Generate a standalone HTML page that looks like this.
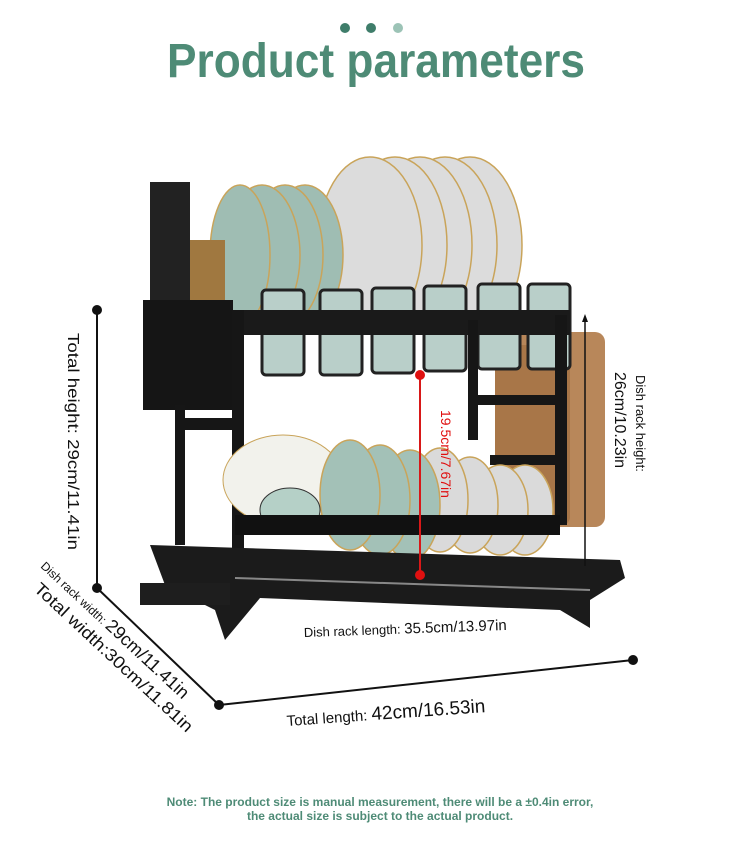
<!DOCTYPE html>
<html><head><meta charset="utf-8"><style>
html,body{margin:0;padding:0;background:#fff;}
svg{display:block}
text{font-family:"Liberation Sans",sans-serif;}
</style></head><body>
<svg width="750" height="850" viewBox="0 0 750 850" xmlns="http://www.w3.org/2000/svg">
<rect width="750" height="850" fill="#fff"/>
<circle cx="345" cy="28" r="5" fill="#3f7d6a"/>
<circle cx="371" cy="28" r="5" fill="#3f7d6a"/>
<circle cx="398" cy="28" r="5" fill="#9cc3b6"/>
<text x="376" y="77" text-anchor="middle" font-size="48" font-weight="bold" fill="#4e8b76" textLength="418" lengthAdjust="spacingAndGlyphs">Product parameters</text>

<rect x="500" y="332" width="105" height="195" rx="10" fill="#b8875a"/>
<rect x="495" y="345" width="75" height="180" rx="8" fill="#a87648"/>
<g fill="#dcdcdc" stroke="#c9a45a" stroke-width="1.5">
<ellipse cx="470" cy="245" rx="52" ry="88"/>
<ellipse cx="445" cy="245" rx="52" ry="88"/>
<ellipse cx="420" cy="245" rx="52" ry="88"/>
<ellipse cx="395" cy="245" rx="52" ry="88"/>
<ellipse cx="370" cy="245" rx="52" ry="88"/>
</g>
<g fill="#9fbdb3" stroke="#c9a45a" stroke-width="1.5">
<ellipse cx="305" cy="255" rx="38" ry="70"/>
<ellipse cx="285" cy="255" rx="38" ry="70"/>
<ellipse cx="262" cy="255" rx="38" ry="70"/>
<ellipse cx="240" cy="255" rx="30" ry="70"/>
</g>
<g fill="#b9cfc9" stroke="#222" stroke-width="3">
<rect x="262" y="290" width="42" height="85" rx="4"/>
<rect x="320" y="290" width="42" height="85" rx="4"/>
<rect x="372" y="288" width="42" height="85" rx="4"/>
<rect x="424" y="286" width="42" height="85" rx="4"/>
<rect x="478" y="284" width="42" height="85" rx="4"/>
<rect x="528" y="284" width="42" height="85" rx="4"/>
</g>
<rect x="240" y="310" width="330" height="25" fill="#1a1a1a"/>
<rect x="150" y="182" width="40" height="120" fill="#222"/>
<rect x="190" y="240" width="35" height="70" fill="#a07840"/>
<rect x="143" y="300" width="90" height="110" fill="#151515"/>
<g fill="#161616">
<rect x="232" y="310" width="12" height="260"/>
<rect x="555" y="315" width="12" height="210"/>
<rect x="468" y="320" width="10" height="120"/>
<rect x="175" y="405" width="10" height="140"/>
<rect x="180" y="418" width="62" height="12"/>
<rect x="470" y="395" width="85" height="10"/>
<rect x="490" y="455" width="65" height="10"/>
</g>
<ellipse cx="283" cy="480" rx="60" ry="45" fill="#f2f2ec" stroke="#c9a45a"/>
<g fill="#dadada" stroke="#c9a45a" stroke-width="1.5">
<ellipse cx="525" cy="510" rx="28" ry="45"/>
<ellipse cx="500" cy="510" rx="28" ry="45"/>
<ellipse cx="470" cy="505" rx="28" ry="48"/>
<ellipse cx="440" cy="500" rx="28" ry="52"/>
</g>
<g fill="#a3c1b7" stroke="#c9a45a" stroke-width="1.5">
<ellipse cx="410" cy="505" rx="30" ry="55"/>
<ellipse cx="380" cy="500" rx="30" ry="55"/>
<ellipse cx="350" cy="495" rx="30" ry="55"/>
</g>
<ellipse cx="290" cy="510" rx="30" ry="22" fill="#b5d0c7" stroke="#333"/>
<rect x="235" y="515" width="325" height="20" fill="#111"/>
<polygon points="150,545 620,560 625,578 590,600 590,628 560,610 260,598 225,640 215,610 165,585" fill="#1b1b1b"/>
<rect x="140" y="583" width="90" height="22" fill="#1e1e1e"/>
<line x1="235" y1="578" x2="590" y2="590" stroke="#888" stroke-width="2"/>

<g stroke="#111" stroke-width="2">
<line x1="97" y1="310" x2="97" y2="588"/>
<line x1="97" y1="588" x2="219" y2="705"/>
<line x1="219" y1="705" x2="633" y2="660"/>
<line x1="585" y1="318" x2="585" y2="566" stroke-width="1.5"/>
</g>
<g fill="#111">
<circle cx="97" cy="310" r="5"/><circle cx="97" cy="588" r="5"/>
<circle cx="219" cy="705" r="5"/><circle cx="633" cy="660" r="5"/>
<polygon points="585,314 582,322 588,322"/>
</g>
<line x1="420" y1="375" x2="420" y2="575" stroke="#d81818" stroke-width="2"/>
<circle cx="420" cy="375" r="5" fill="#e01010"/><circle cx="420" cy="575" r="5" fill="#e01010"/>

<text transform="translate(68,333) rotate(90)" font-size="16" fill="#111" textLength="217" lengthAdjust="spacingAndGlyphs">Total height:  29cm/11.41in</text>
<text transform="translate(441,410) rotate(90)" font-size="14" fill="#e01010">19.5cm/7.67in</text>
<text transform="translate(636,375) rotate(90)" font-size="13" fill="#111">Dish rack height:</text>
<text transform="translate(615,372) rotate(90)" font-size="16" fill="#111">26cm/10.23in</text>
<text transform="translate(40,567) rotate(43)" font-size="12" fill="#111">Dish rack width: <tspan font-size="18">29cm/11.41in</tspan></text>
<text transform="translate(33,590) rotate(43)" font-size="17" fill="#111" textLength="210" lengthAdjust="spacingAndGlyphs">Total width:30cm/11.81in</text>
<text transform="translate(304,637) rotate(-2)" font-size="13" fill="#111">Dish rack length: <tspan font-size="15">35.5cm/13.97in</tspan></text>
<text transform="translate(287,726) rotate(-4)" font-size="15" fill="#111">Total length:  <tspan font-size="19">42cm/16.53in</tspan></text>

<text x="380" y="806" text-anchor="middle" font-size="12" font-weight="bold" fill="#4e8b76">Note: The product size is manual measurement, there will be a ±0.4in error,</text>
<text x="380" y="820" text-anchor="middle" font-size="12" font-weight="bold" fill="#4e8b76">the actual size is subject to the actual product.</text>
</svg>
</body></html>
